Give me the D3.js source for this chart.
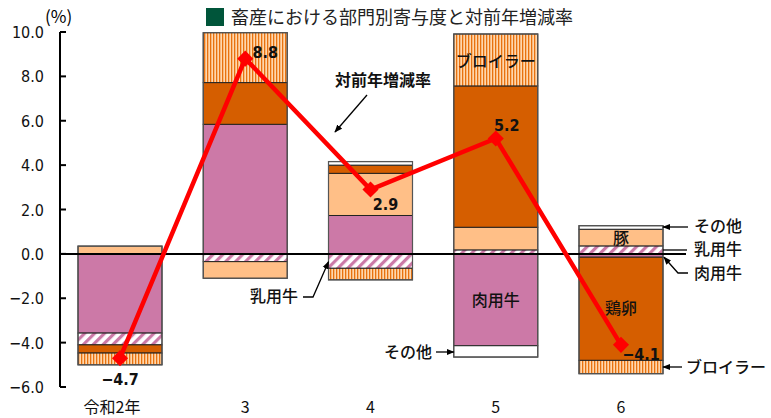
<!DOCTYPE html>
<html>
<head>
<meta charset="utf-8">
<script src="https://cdn.jsdelivr.net/npm/d3@7"></script>
<style>
  body { margin: 0; background: #fff; }
  svg { display: block; }
  .num { font-family: "DejaVu Sans Condensed", "DejaVu Sans", sans-serif; }
  .jp { font-family: "Noto Sans CJK JP", sans-serif; }
</style>
</head>
<body>
<svg id="chart"></svg>
<script>
// contribution by sector (percentage points) and year-on-year change
var years = ["令和2年", "3", "4", "5", "6"];
var sectors = ["肉用牛", "乳用牛", "豚", "鶏卵", "ブロイラー", "その他"];
var beefCattle  = [-3.57, 5.84, 1.73, -4.14, -0.15];
var dairyCattle = [-0.53, -0.35, -0.65, 0.18, 0.36];
var pig         = [0.35, -0.75, 1.90, 1.02, 0.75];
var eggs        = [-0.37, 1.88, 0.37, 6.37, -4.65];
var broiler     = [-0.53, 2.25, -0.52, 2.34, -0.60];
var others      = [0, 0, 0.16, -0.51, 0.16];
var growth      = [-4.7, 8.8, 2.9, 5.2, -4.1];
var yTicks      = [10, 8, 6, 4, 2, 0, -2, -4, -6];

var W = 771, H = 418;
var svg = d3.select("#chart").attr("width", W).attr("height", H);

var x = d3.scalePoint().domain(years).range([120, 621]);
var y = d3.scaleLinear().domain([-6, 10]).range([387, 32]);
var barW = 84;

// patterns
var defs = svg.append("defs");
var pStripe = defs.append("pattern").attr("id", "stripe")
  .attr("patternUnits", "userSpaceOnUse").attr("width", 3).attr("height", 6);
pStripe.append("rect").attr("width", 3).attr("height", 6).attr("fill", "#ffd7ad");
pStripe.append("rect").attr("width", 1.3).attr("height", 6).attr("fill", "#e8720f");

var pHatch = defs.append("pattern").attr("id", "hatch")
  .attr("patternUnits", "userSpaceOnUse").attr("width", 7).attr("height", 7)
  .attr("patternTransform", "rotate(45)");
pHatch.append("rect").attr("width", 7).attr("height", 7).attr("fill", "#fff");
pHatch.append("rect").attr("width", 3.2).attr("height", 7).attr("fill", "#cc79a7");

defs.append("marker").attr("id", "arrow")
  .attr("viewBox", "0 0 10 10").attr("refX", 9).attr("refY", 5)
  .attr("markerWidth", 8).attr("markerHeight", 8).attr("orient", "auto")
  .attr("markerUnits", "userSpaceOnUse")
  .append("path").attr("d", "M0,1 L10,5 L0,9 Z").attr("fill", "#000");

var fills = {
  "肉用牛": "#cc79a7",
  "乳用牛": "url(#hatch)",
  "豚": "#ffbf87",
  "鶏卵": "#d55e00",
  "ブロイラー": "url(#stripe)",
  "その他": "#ffffff"
};

var table = years.map(function(yr, i) {
  return {year: yr, "肉用牛": beefCattle[i], "乳用牛": dairyCattle[i], "豚": pig[i],
          "鶏卵": eggs[i], "ブロイラー": broiler[i], "その他": others[i]};
});
var stacked = d3.stack().keys(sectors).offset(d3.stackOffsetDiverging)(table);

// bars
var gBars = svg.append("g");
stacked.forEach(function(layer) {
  gBars.selectAll(null).data(layer.filter(function(d) { return d[1] - d[0] !== 0; }))
    .enter().append("rect")
    .attr("x", function(d) { return x(d.data.year) - barW / 2; })
    .attr("width", barW)
    .attr("y", function(d) { return y(d[1]); })
    .attr("height", function(d) { return y(d[0]) - y(d[1]); })
    .attr("fill", fills[layer.key])
    .attr("stroke", "#222").attr("stroke-width", 1);
});
// outer border of each bar
years.forEach(function(yr, i) {
  var top = d3.max(stacked, function(l) { return l[i][1]; });
  var bot = d3.min(stacked, function(l) { return l[i][0]; });
  gBars.append("rect")
    .attr("x", x(yr) - barW / 2).attr("width", barW)
    .attr("y", y(top)).attr("height", y(bot) - y(top))
    .attr("fill", "none").attr("stroke", "#555").attr("stroke-width", 1.2);
});

// axis
var gAxis = svg.append("g");
gAxis.append("line").attr("x1", 60).attr("x2", 60).attr("y1", y(10)).attr("y2", y(-6))
  .attr("stroke", "#000").attr("stroke-width", 2);
gAxis.selectAll(".tk").data(yTicks).enter().append("line")
  .attr("x1", 60).attr("x2", 66).attr("y1", function(d) { return y(d); })
  .attr("y2", function(d) { return y(d); })
  .attr("stroke", "#000").attr("stroke-width", 2);
gAxis.selectAll(".tl").data(yTicks).enter().append("text")
  .attr("class", "num").attr("x", 44).attr("y", function(d) { return y(d) + 6; })
  .attr("text-anchor", "end").attr("font-size", 16).attr("fill", "#111")
  .text(function(d) { return d.toFixed(1).replace("-", "\u2212"); });
svg.append("text").attr("class", "jp").attr("x", 45).attr("y", 23)
  .attr("font-size", 17).text("(%)");

// zero line
svg.append("line").attr("x1", 60).attr("x2", 686).attr("y1", y(0)).attr("y2", y(0))
  .attr("stroke", "#000").attr("stroke-width", 2);

// x labels
svg.selectAll(".xl").data(years).enter().append("text")
  .attr("class", "jp").attr("x", function(d, i) { return i === 0 ? x(d) - 8 : x(d); })
  .attr("y", 413).attr("text-anchor", "middle").attr("font-size", 16).attr("fill", "#111")
  .text(function(d) { return d; });

// growth line
var line = d3.line().x(function(d, i) { return x(years[i]); }).y(function(d) { return y(d); });
svg.append("path").datum(growth).attr("d", line)
  .attr("fill", "none").attr("stroke", "#ff0000").attr("stroke-width", 4.5);
svg.selectAll(".mk").data(growth).enter().append("path")
  .attr("d", d3.symbol().type(d3.symbolSquare).size(130))
  .attr("transform", function(d, i) { return "translate(" + x(years[i]) + "," + y(d) + ") rotate(45)"; })
  .attr("fill", "#ff0000");

var labelOffset = [[0, 21], [20, -7], [15, 14], [11, -14], [20, 9]];
svg.selectAll(".vl").data(growth).enter().append("text")
  .attr("class", "num").attr("font-size", 16).attr("font-weight", "bold")
  .attr("text-anchor", "middle").attr("fill", "#111")
  .attr("x", function(d, i) { return x(years[i]) + labelOffset[i][0]; })
  .attr("y", function(d, i) { return y(d) + labelOffset[i][1] + 6; })
  .text(function(d) { return d.toFixed(1).replace("-", "\u2212"); });

// labels inside bars
function jpText(tx, ty, s, anchor, bold) {
  svg.append("text").attr("class", "jp").attr("x", tx).attr("y", ty)
    .attr("text-anchor", anchor || "middle").attr("font-size", 16)
    .attr("font-weight", bold ? "bold" : 500).attr("fill", "#111").text(s);
}
jpText(x("5"), 67, "ブロイラー");
jpText(x("5"), 306, "肉用牛");
jpText(x("6"), 244, "豚");
jpText(x("6"), 314, "鶏卵");

// annotations
function arrowLine(pts, head) {
  svg.append("path").attr("d", d3.line()(pts)).attr("fill", "none")
    .attr("stroke", "#000").attr("stroke-width", 1.3)
    .attr("marker-end", head ? "url(#arrow)" : null);
}
jpText(383, 86, "対前年増減率", "middle", true);
arrowLine([[367, 95], [335, 132]], true);

var r6 = x("6") + barW / 2, l4 = x("4") - barW / 2, l5 = x("5") - barW / 2;
jpText(250, 302, "乳用牛", "start");
arrowLine([[303, 297], [313, 297], [l4, y(-0.35)]], true);
jpText(384, 358, "その他", "start");
arrowLine([[436, 352], [l5, 352]], true);

jpText(694, 232, "その他", "start");
arrowLine([[688, 227], [r6, 227]], true);
jpText(694, 255, "乳用牛", "start");
arrowLine([[687, 250], [r6, 250]], false);
jpText(694, 279, "肉用牛", "start");
arrowLine([[688, 273], [678, 273], [r6 + 1, y(-0.15)]], true);
jpText(686, 373, "ブロイラー", "start");
arrowLine([[682, 367], [r6, 367]], true);

// title
svg.append("rect").attr("x", 206).attr("y", 8).attr("width", 18).attr("height", 18)
  .attr("fill", "#00553a");
svg.append("text").attr("class", "jp").attr("x", 231).attr("y", 24)
  .attr("font-size", 18).attr("fill", "#222").text("畜産における部門別寄与度と対前年増減率");
</script>
</body>
</html>
